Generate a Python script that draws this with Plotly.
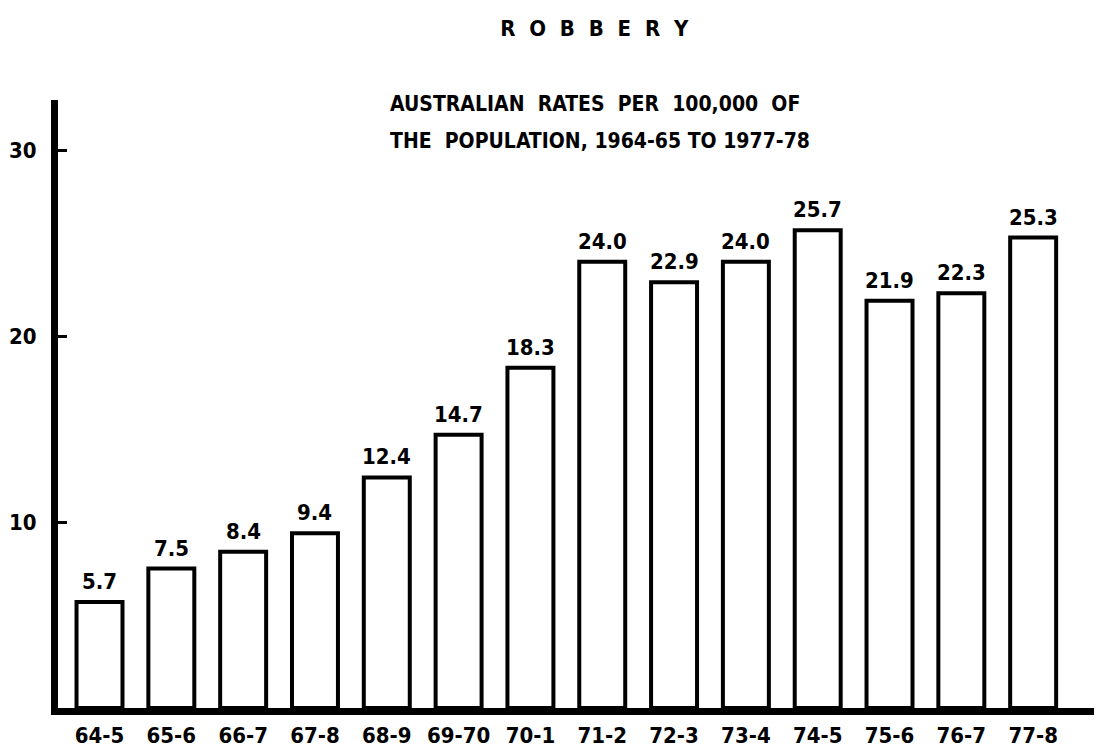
import plotly.graph_objects as go

# Robbery rates per 100,000 of population, Australia
years = ["64-5", "65-6", "66-7", "67-8", "68-9", "69-70", "70-1",
         "71-2", "72-3", "73-4", "74-5", "75-6", "76-7", "77-8"]
rates = [5.7, 7.5, 8.4, 9.4, 12.4, 14.7, 18.3,
         24.0, 22.9, 24.0, 25.7, 21.9, 22.3, 25.3]
y_ticks = [10, 20, 30]

FONT = "DejaVu Sans Condensed, DejaVu Sans, sans-serif"
SP = "\u00a0"

fig = go.Figure()

fig.add_trace(go.Bar(
    x=list(range(len(years))),
    y=rates,
    width=0.64,
    marker=dict(color="white", line=dict(color="black", width=4)),
    hoverinfo="x+y",
))

# value labels above each bar
for i, v in enumerate(rates):
    fig.add_annotation(
        x=i, y=v, xref="x", yref="y",
        text=f"{v:.1f}", showarrow=False,
        yanchor="bottom", yshift=6,
        font=dict(family=FONT, size=22, color="black", weight="bold"),
    )

fig.add_annotation(
    x=0.3137, y=0.993, xref="paper", yref="paper",
    xanchor="left", yanchor="middle", showarrow=False,
    text=f"AUSTRALIAN{SP*2}RATES{SP*2}PER{SP*2}100,000{SP*2}OF",
    font=dict(family=FONT, size=21, color="black", weight="bold"),
)
fig.add_annotation(
    x=0.3137, y=0.932, xref="paper", yref="paper",
    xanchor="left", yanchor="middle", showarrow=False,
    text=f"THE{SP*2}POPULATION, 1964-65 TO 1977-78",
    font=dict(family=FONT, size=21, color="black", weight="bold"),
)

fig.update_layout(
    title=dict(
        text=(SP * 2).join("ROBBERY"),
        x=0.532, xanchor="center",
        y=1 - 20 / 756, yanchor="middle", yref="container",
        font=dict(family=FONT, size=22, color="black", weight="bold"),
    ),
    width=1102, height=756,
    paper_bgcolor="white", plot_bgcolor="white",
    margin=dict(l=50, r=0, t=92, b=56),
    showlegend=False,
    font=dict(family=FONT, color="black"),
)

fig.update_xaxes(
    range=[-0.578, 14.07],
    tickmode="array",
    tickvals=list(range(len(years))),
    ticktext=years,
    ticks="",
    ticklabelstandoff=2,
    showgrid=False, zeroline=False,
    showline=True, linecolor="black", linewidth=7,
    tickfont=dict(family=FONT, size=22, color="black", weight="bold"),
)

fig.update_yaxes(
    range=[0, 32.7],
    tickmode="array",
    tickvals=y_ticks,
    ticktext=[str(t) for t in y_ticks],
    ticks="inside", ticklen=9, tickwidth=3, tickcolor="black",
    ticklabelstandoff=10,
    showgrid=False, zeroline=False,
    showline=True, linecolor="black", linewidth=7,
    tickfont=dict(family=FONT, size=22, color="black", weight="bold"),
)

fig.write_html("out.html")
